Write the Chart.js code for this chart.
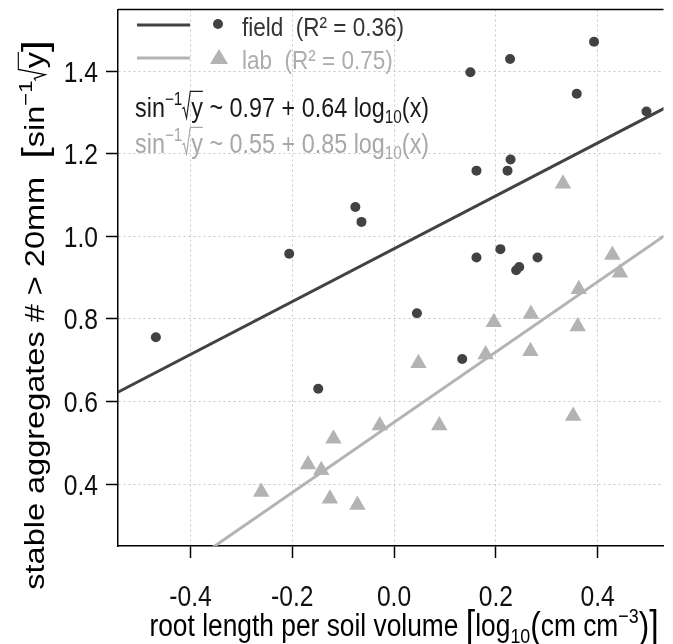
<!DOCTYPE html>
<html>
<head>
<meta charset="utf-8">
<script src="https://cdn.jsdelivr.net/npm/chart.js@4.4.0/dist/chart.umd.min.js"></script>
<style>
  html, body { margin: 0; padding: 0; background: #fff; }
  #wrap { width: 673px; height: 644px; position: relative; }
</style>
</head>
<body>
<div id="wrap"><canvas id="myChart"></canvas></div>
<script>
// root length (log10 cm cm-3) vs arcsine-sqrt stable aggregates
const fieldX = [0.393, 0.228, 0.150, 0.359, 0.496, 0.229, 0.162, 0.223, -0.076, -0.064,
                -0.206, 0.162, 0.209, 0.240, 0.246, 0.282, -0.468, 0.045, 0.134, -0.149];
const fieldY = [1.471, 1.429, 1.397, 1.345, 1.302, 1.186, 1.159, 1.159, 1.071, 1.035,
                0.958, 0.949, 0.969, 0.918, 0.926, 0.949, 0.756, 0.814, 0.703, 0.631];

const labX = [0.332, 0.429, 0.444, 0.363, 0.269, 0.196, 0.361, 0.180, 0.268, 0.048,
              0.352, 0.089, -0.028, -0.119, -0.169, -0.143, -0.261, -0.126, -0.072];
const labY = [1.127, 0.955, 0.912, 0.872, 0.812, 0.792, 0.782, 0.714, 0.722, 0.693,
              0.565, 0.542, 0.542, 0.510, 0.448, 0.434, 0.381, 0.365, 0.350];

// fitted lines (end points beyond the plot, clipped by the chart area)
const fieldLineX = [-0.6, 0.6];
const fieldLineY = [0.586, 1.354];
const labLineX = [-0.6, 0.6];
const labLineY = [0.04, 1.06];

const xTicks = [-0.4, -0.2, 0.0, 0.2, 0.4];
const yTicks = [0.4, 0.6, 0.8, 1.0, 1.2, 1.4];

const dark = '#424242';
const light = '#b3b3b3';
const FONT = "'Liberation Sans', Arial, Helvetica, sans-serif";
const K = 0.85;   // the figure looks squeezed sideways, so text is narrowed horizontally

function pts(xs, ys) { return xs.map((x, i) => ({x: x, y: ys[i]})); }

// draw a run of pieces: {t, size, dy, sqrt}
function drawRuns(ctx, x, y, runs) {
  runs.forEach(r => {
    ctx.font = r.size + 'px ' + FONT;
    if (r.sqrt) {
      const s = r.size;
      const w = ctx.measureText(r.t).width;
      ctx.save();
      ctx.strokeStyle = ctx.fillStyle;
      ctx.lineWidth = 1.3;
      ctx.beginPath();
      ctx.moveTo(x, y - 0.30 * s);
      ctx.lineTo(x + 0.07 * s, y - 0.35 * s);
      ctx.lineTo(x + 0.18 * s, y + 0.04 * s);
      ctx.lineTo(x + 0.34 * s, y - 0.93 * s);
      ctx.lineTo(x + 0.38 * s + w, y - 0.93 * s);
      ctx.stroke();
      ctx.restore();
      x += 0.38 * s;
      ctx.fillText(r.t, x, y);
      x += w;
      return;
    }
    ctx.fillText(r.t, x, y + (r.dy || 0));
    x += ctx.measureText(r.t).width;
  });
  return x;
}
function runsWidth(ctx, runs) {
  let w = 0;
  runs.forEach(r => {
    ctx.font = r.size + 'px ' + FONT;
    w += ctx.measureText(r.t).width + (r.sqrt ? 0.38 * r.size : 0);
  });
  return w;
}
// narrow text: translate to (x, y), squeeze, draw; align: 0 left, 0.5 centre, 1 right
function narrow(ctx, x, y, runs, align) {
  const w = runsWidth(ctx, runs) * K;
  ctx.save();
  ctx.translate(x - w * (align || 0), y);
  ctx.scale(K, 1);
  drawRuns(ctx, 0, 0, runs);
  ctx.restore();
}

const annotations = {
  id: 'annotations',
  afterDraw(chart) {
    const ctx = chart.ctx;
    const a = chart.chartArea;
    ctx.save();
    // top of the plot box
    ctx.strokeStyle = '#000';
    ctx.lineWidth = 1.5;
    ctx.beginPath();
    ctx.moveTo(a.left, a.top);
    ctx.lineTo(a.right, a.top);
    ctx.stroke();

    ctx.textBaseline = 'alphabetic';
    ctx.textAlign = 'left';

    // tick labels
    ctx.fillStyle = '#111';
    const sx = chart.scales.x, sy = chart.scales.y;
    xTicks.forEach(v => narrow(ctx, sx.getPixelForValue(v), 606, [{t: v.toFixed(1), size: 29}], 0.5));
    yTicks.forEach(v => narrow(ctx, 98, sy.getPixelForValue(v) + 10.5, [{t: v.toFixed(1), size: 29}], 1));

    // legend
    ctx.lineWidth = 3;
    ctx.strokeStyle = dark;
    ctx.beginPath(); ctx.moveTo(137, 25); ctx.lineTo(190, 25); ctx.stroke();
    ctx.fillStyle = dark;
    ctx.beginPath(); ctx.arc(218, 24, 5, 0, Math.PI * 2); ctx.fill();
    ctx.fillStyle = '#333';
    narrow(ctx, 242, 36, [{t: 'field  (R\u00b2 = 0.36)', size: 26.5}]);

    ctx.strokeStyle = light;
    ctx.beginPath(); ctx.moveTo(137, 58); ctx.lineTo(190, 58); ctx.stroke();
    ctx.fillStyle = light;
    ctx.beginPath();
    ctx.moveTo(219, 49); ctx.lineTo(228, 64); ctx.lineTo(210, 64); ctx.closePath(); ctx.fill();
    ctx.fillStyle = '#acacac';
    narrow(ctx, 242, 69, [{t: 'lab  (R\u00b2 = 0.75)', size: 26.5}]);

    // fitted equations
    const eq = (b0, b1) => [
      {t: 'sin', size: 27.5}, {t: '\u22121', size: 18, dy: -12}, {t: 'y', size: 27.5, sqrt: true},
      {t: ' ~ ' + b0 + ' + ' + b1 + ' log', size: 27.5}, {t: '10', size: 18, dy: 6}, {t: '(x)', size: 27.5}
    ];
    ctx.fillStyle = '#1a1a1a';
    narrow(ctx, 135, 117, eq('0.97', '0.64'));
    ctx.fillStyle = '#a8a8a8';
    narrow(ctx, 135, 153, eq('0.55', '0.85'));

    // x axis title
    ctx.fillStyle = '#000';
    const xt = [
      {t: 'root length per soil volume ', size: 31}, {t: '[', size: 40, dy: 3},
      {t: 'log', size: 31}, {t: '10', size: 21, dy: 7}, {t: '(', size: 37, dy: 2},
      {t: 'cm cm', size: 31}, {t: '\u22123', size: 21, dy: -13}, {t: ')', size: 37, dy: 2},
      {t: ']', size: 40, dy: 3}
    ];
    narrow(ctx, 404, 636, xt, 0.5);

    // y axis title, rotated: full length along the text, glyphs squeezed sideways
    const yt = [
      {t: 'stable aggregates # > 20mm  ', size: 32.5}, {t: '[', size: 42, dy: 3},
      {t: 'sin', size: 32.5}, {t: '\u22121', size: 22, dy: -14}, {t: 'y', size: 32.5, sqrt: true},
      {t: ']', size: 42, dy: 3}
    ];
    ctx.translate(44, 315);
    ctx.scale(K, 1);
    ctx.rotate(-Math.PI / 2);
    const yw = runsWidth(ctx, yt);
    drawRuns(ctx, -yw / 2, 0, yt);
    ctx.restore();
  }
};

const ctx = document.getElementById('myChart');

var myChart = new Chart(ctx, {
  type: 'scatter',
  data: {
    datasets: [
      {
        label: 'field fit', type: 'line', data: pts(fieldLineX, fieldLineY),
        borderColor: dark, borderWidth: 3, pointRadius: 0, fill: false, order: 3
      },
      {
        label: 'lab fit', type: 'line', data: pts(labLineX, labLineY),
        borderColor: light, borderWidth: 3, pointRadius: 0, fill: false, order: 4
      },
      {
        label: 'field', data: pts(fieldX, fieldY),
        pointStyle: 'circle', pointRadius: 5, backgroundColor: dark, borderWidth: 0, order: 1
      },
      {
        label: 'lab', data: pts(labX, labY),
        pointStyle: 'triangle', pointRadius: 9.5, backgroundColor: light, borderWidth: 0, order: 2
      }
    ]
  },
  options: {
    responsive: true,
    maintainAspectRatio: false,
    animation: false,
    layout: { padding: { top: 7, right: 0, left: 0, bottom: 0 } },
    plugins: { legend: { display: false }, tooltip: { enabled: false } },
    scales: {
      x: {
        type: 'linear',
        min: -0.5424, max: 0.5295,
        afterBuildTicks: s => { s.ticks = xTicks.map(v => ({value: v})); },
        afterFit: s => { s.height = 98; s.paddingLeft = 0; s.paddingRight = 0; },
        grid: { color: '#c8c8c8', lineWidth: 1, tickLength: 12, tickColor: '#000', tickWidth: 1.5 },
        border: { display: true, color: '#000', width: 1.5, dash: [2, 3] },
        ticks: { display: false }
      },
      y: {
        type: 'linear',
        min: 0.2506, max: 1.549,
        afterBuildTicks: s => { s.ticks = yTicks.map(v => ({value: v})); },
        afterFit: s => { s.width = 118; s.paddingTop = 0; s.paddingBottom = 0; },
        grid: { color: '#c8c8c8', lineWidth: 1, tickLength: 12, tickColor: '#000', tickWidth: 1.5 },
        border: { display: true, color: '#000', width: 1.5, dash: [2, 3] },
        ticks: { display: false }
      }
    }
  },
  plugins: [annotations]
});
</script>
</body>
</html>
